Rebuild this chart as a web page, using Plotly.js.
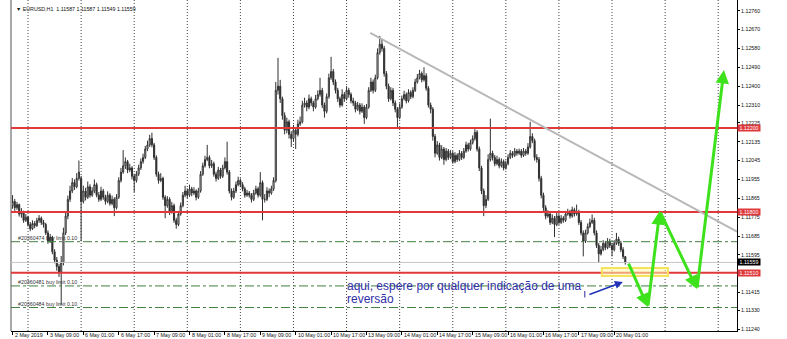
<!DOCTYPE html>
<html>
<head>
<meta charset="utf-8">
<script src="https://cdn.plot.ly/plotly-3.0.1.min.js"></script>
<style>
  html, body { margin: 0; padding: 0; background: #fff; }
  #chart { width: 787px; height: 339px; }
</style>
</head>
<body>
<div id="chart"></div>
<script>
// EURUSD H1 bars, 2 May 2019 17:00 .. 20 May 2019 06:00 (one bar per hour, weekends skipped)
const open = [
  1.11830,1.11850,1.11820,1.11835,1.11790,1.11800,1.11760,1.11775,1.11740,1.11720,
  1.11745,1.11735,1.11760,1.11770,1.11750,1.11740,1.11700,1.11660,1.11680,1.11610,
  1.11570,1.11540,1.11510,1.11560,1.11700,1.11780,1.11860,1.11900,1.11940,1.11920,
  1.11960,1.11960,1.11850,1.11900,1.11870,1.11920,1.11880,1.11900,1.11930,1.11880,
  1.11860,1.11900,1.11870,1.11850,1.11880,1.11840,1.11860,1.11820,1.11870,1.11950,
  1.11990,1.12020,1.12040,1.12000,1.12010,1.11970,1.11950,1.11980,1.12010,1.12040,
  1.12060,1.12100,1.12120,1.12150,1.12120,1.12060,1.11980,1.11950,1.11960,1.11870,
  1.11830,1.11860,1.11800,1.11830,1.11760,1.11740,1.11790,1.11830,1.11880,1.11900,
  1.11880,1.11910,1.11890,1.11900,1.11870,1.11900,1.11980,1.12020,1.12050,1.12060,
  1.12020,1.12030,1.11980,1.11960,1.12000,1.11970,1.12010,1.12040,1.11990,1.11900,
  1.11870,1.11900,1.11930,1.11950,1.11930,1.11910,1.11880,1.11890,1.11880,1.11860,
  1.11890,1.11910,1.11880,1.11940,1.11860,1.11860,1.11900,1.11890,1.11910,1.11950,
  1.12380,1.12400,1.12340,1.12260,1.12190,1.12230,1.12170,1.12150,1.12190,1.12170,
  1.12220,1.12230,1.12310,1.12320,1.12300,1.12340,1.12320,1.12300,1.12340,1.12360,
  1.12380,1.12310,1.12280,1.12350,1.12440,1.12470,1.12420,1.12380,1.12340,1.12310,
  1.12360,1.12340,1.12380,1.12360,1.12330,1.12320,1.12290,1.12310,1.12280,1.12300,
  1.12250,1.12300,1.12380,1.12420,1.12380,1.12440,1.12560,1.12600,1.12580,1.12460,
  1.12400,1.12340,1.12380,1.12320,1.12290,1.12250,1.12300,1.12340,1.12360,1.12330,
  1.12370,1.12350,1.12380,1.12420,1.12440,1.12460,1.12430,1.12450,1.12390,1.12310,
  1.12290,1.12160,1.12080,1.12120,1.12060,1.12100,1.12050,1.12090,1.12060,1.12080,
  1.12040,1.12070,1.12050,1.12080,1.12060,1.12090,1.12120,1.12100,1.12130,1.12150,
  1.12180,1.12100,1.12010,1.11900,1.11830,1.11860,1.12050,1.12080,1.12060,1.12030,
  1.12050,1.12020,1.12040,1.12010,1.12030,1.12060,1.12080,1.12070,1.12090,1.12080,
  1.12090,1.12070,1.12090,1.12080,1.12110,1.12160,1.12140,1.12060,1.12050,1.11960,
  1.11880,1.11820,1.11780,1.11790,1.11750,1.11770,1.11740,1.11780,1.11750,1.11770,
  1.11760,1.11790,1.11800,1.11780,1.11810,1.11790,1.11800,1.11750,1.11700,1.11660,
  1.11700,1.11730,1.11750,1.11760,1.11700,1.11640,1.11600,1.11620,1.11650,1.11630,
  1.11660,1.11640,1.11620,1.11650,1.11670,1.11650,1.11620,1.11587
];
const high = [
  1.11880,1.11862,1.11848,1.11840,1.11818,1.11806,1.11790,1.11782,1.11752,1.11760,
  1.11756,1.11772,1.11785,1.11778,1.11762,1.11748,1.11712,1.11695,1.11686,1.11622,
  1.11585,1.11552,1.11590,1.11725,1.11800,1.11878,1.11925,1.11962,1.11955,1.11985,
  1.12045,1.11972,1.11925,1.11915,1.11945,1.11932,1.11918,1.11955,1.11940,1.11895,
  1.11920,1.11910,1.11882,1.11898,1.11890,1.11878,1.11870,1.11885,1.11965,1.12010,
  1.12095,1.12060,1.12048,1.12030,1.12018,1.11982,1.11995,1.12025,1.12055,1.12078,
  1.12115,1.12140,1.12168,1.12178,1.12130,1.12070,1.11992,1.11985,1.11968,1.11880,
  1.11875,1.11870,1.11848,1.11840,1.11772,1.11805,1.11845,1.11895,1.11925,1.11912,
  1.11930,1.11920,1.11918,1.11908,1.11915,1.11995,1.12035,1.12068,1.12120,1.12070,
  1.12048,1.12040,1.11992,1.12015,1.12010,1.12025,1.12060,1.12135,1.12000,1.11912,
  1.11915,1.11945,1.11968,1.11960,1.11942,1.11920,1.11905,1.11900,1.11890,1.11905,
  1.11925,1.11920,1.11990,1.11950,1.11885,1.11918,1.11912,1.11925,1.11965,1.12420,
  1.12535,1.12430,1.12350,1.12275,1.12250,1.12240,1.12185,1.12215,1.12205,1.12240,
  1.12255,1.12330,1.12345,1.12332,1.12360,1.12350,1.12330,1.12358,1.12380,1.12440,
  1.12392,1.12322,1.12365,1.12460,1.12540,1.12482,1.12432,1.12392,1.12350,1.12385,
  1.12372,1.12400,1.12392,1.12370,1.12345,1.12330,1.12325,1.12320,1.12318,1.12310,
  1.12315,1.12395,1.12440,1.12432,1.12455,1.12580,1.12640,1.12625,1.12592,1.12472,
  1.12412,1.12395,1.12392,1.12332,1.12300,1.12318,1.12355,1.12378,1.12370,1.12385,
  1.12380,1.12395,1.12435,1.12458,1.12478,1.12470,1.12490,1.12462,1.12400,1.12322,
  1.12300,1.12172,1.12138,1.12130,1.12118,1.12110,1.12105,1.12100,1.12095,1.12090,
  1.12085,1.12080,1.12095,1.12090,1.12105,1.12135,1.12130,1.12145,1.12165,1.12195,
  1.12190,1.12112,1.12020,1.11912,1.11880,1.12075,1.12245,1.12092,1.12072,1.12068,
  1.12060,1.12055,1.12050,1.12045,1.12075,1.12095,1.12090,1.12105,1.12100,1.12102,
  1.12100,1.12105,1.12100,1.12128,1.12230,1.12175,1.12150,1.12075,1.12062,1.11972,
  1.11892,1.11832,1.11808,1.11800,1.11788,1.11780,1.11795,1.11790,1.11785,1.11780,
  1.11805,1.11815,1.11810,1.11825,1.11820,1.11835,1.11810,1.11762,1.11712,1.11715,
  1.11745,1.11768,1.11788,1.11772,1.11712,1.11652,1.11638,1.11665,1.11662,1.11675,
  1.11672,1.11652,1.11665,1.11700,1.11682,1.11662,1.11632,1.11587
];
const low = [
  1.11815,1.11805,1.11810,1.11778,1.11772,1.11748,1.11752,1.11730,1.11708,1.11714,
  1.11722,1.11728,1.11748,1.11738,1.11725,1.11690,1.11648,1.11652,1.11598,1.11555,
  1.11520,1.11490,1.11356,1.11545,1.11690,1.11765,1.11848,1.11890,1.11905,1.11912,
  1.11950,1.11660,1.11840,1.11855,1.11862,1.11868,1.11872,1.11890,1.11870,1.11848,
  1.11852,1.11858,1.11835,1.11842,1.11830,1.11832,1.11780,1.11812,1.11862,1.11940,
  1.11982,1.12005,1.11985,1.11990,1.11955,1.11895,1.11940,1.11972,1.12000,1.12030,
  1.12052,1.12090,1.12110,1.12108,1.12048,1.11968,1.11935,1.11942,1.11858,1.11770,
  1.11820,1.11785,1.11792,1.11748,1.11720,1.11732,1.11782,1.11822,1.11870,1.11865,
  1.11872,1.11875,1.11880,1.11855,1.11862,1.11892,1.11972,1.12012,1.12042,1.12008,
  1.12010,1.11968,1.11945,1.11952,1.11958,1.11962,1.12002,1.11978,1.11888,1.11855,
  1.11862,1.11890,1.11922,1.11918,1.11898,1.11868,1.11872,1.11868,1.11845,1.11852,
  1.11882,1.11868,1.11872,1.11760,1.11845,1.11852,1.11870,1.11882,1.11900,1.11940,
  1.12360,1.12320,1.12240,1.12170,1.12175,1.12150,1.12110,1.12138,1.12100,1.12160,
  1.12210,1.12222,1.12298,1.12280,1.12290,1.12305,1.12280,1.12292,1.12332,1.12350,
  1.12295,1.12250,1.12270,1.12340,1.12430,1.12405,1.12365,1.12325,1.12298,1.12302,
  1.12325,1.12332,1.12345,1.12318,1.12305,1.12275,1.12282,1.12265,1.12272,1.12220,
  1.12242,1.12292,1.12372,1.12365,1.12372,1.12432,1.12550,1.12565,1.12445,1.12385,
  1.12325,1.12332,1.12305,1.12275,1.12200,1.12242,1.12292,1.12332,1.12318,1.12322,
  1.12338,1.12342,1.12372,1.12412,1.12432,1.12418,1.12422,1.12378,1.12298,1.12270,
  1.12140,1.12060,1.12072,1.12045,1.12052,1.12025,1.12042,1.12048,1.12052,1.12030,
  1.12032,1.12038,1.12042,1.12048,1.12052,1.12082,1.12088,1.12092,1.12122,1.12140,
  1.12088,1.11995,1.11885,1.11780,1.11818,1.11852,1.12040,1.12045,1.12018,1.12022,
  1.12008,1.12012,1.11998,1.12002,1.12022,1.12052,1.12058,1.12062,1.12068,1.12072,
  1.12058,1.12062,1.12068,1.12072,1.12102,1.12128,1.12045,1.12035,1.11945,1.11865,
  1.11805,1.11765,1.11772,1.11738,1.11742,1.11680,1.11732,1.11738,1.11742,1.11748,
  1.11752,1.11782,1.11768,1.11772,1.11778,1.11782,1.11738,1.11688,1.11588,1.11652,
  1.11692,1.11722,1.11742,1.11688,1.11628,1.11558,1.11592,1.11612,1.11618,1.11622,
  1.11628,1.11588,1.11612,1.11642,1.11638,1.11608,1.11575,1.11549
];
const close = [
  1.11850,1.11820,1.11835,1.11790,1.11800,1.11760,1.11775,1.11740,1.11720,1.11745,
  1.11735,1.11760,1.11770,1.11750,1.11740,1.11700,1.11660,1.11680,1.11610,1.11570,
  1.11540,1.11510,1.11560,1.11700,1.11780,1.11860,1.11900,1.11940,1.11920,1.11960,
  1.11990,1.11850,1.11900,1.11870,1.11920,1.11880,1.11900,1.11930,1.11880,1.11860,
  1.11900,1.11870,1.11850,1.11880,1.11840,1.11860,1.11820,1.11870,1.11950,1.11990,
  1.12020,1.12040,1.12000,1.12010,1.11970,1.11950,1.11980,1.12010,1.12040,1.12060,
  1.12100,1.12120,1.12150,1.12120,1.12060,1.11980,1.11950,1.11960,1.11870,1.11830,
  1.11860,1.11800,1.11830,1.11760,1.11740,1.11790,1.11830,1.11880,1.11900,1.11880,
  1.11910,1.11890,1.11900,1.11870,1.11900,1.11980,1.12020,1.12050,1.12060,1.12020,
  1.12030,1.11980,1.11960,1.12000,1.11970,1.12010,1.12040,1.11990,1.11900,1.11870,
  1.11900,1.11930,1.11950,1.11930,1.11910,1.11880,1.11890,1.11880,1.11860,1.11890,
  1.11910,1.11880,1.11940,1.11860,1.11860,1.11900,1.11890,1.11910,1.11950,1.12380,
  1.12400,1.12340,1.12260,1.12190,1.12230,1.12170,1.12150,1.12190,1.12170,1.12220,
  1.12230,1.12310,1.12320,1.12300,1.12340,1.12320,1.12300,1.12340,1.12360,1.12380,
  1.12310,1.12280,1.12350,1.12440,1.12470,1.12420,1.12380,1.12340,1.12310,1.12360,
  1.12340,1.12380,1.12360,1.12330,1.12320,1.12290,1.12310,1.12280,1.12300,1.12250,
  1.12300,1.12380,1.12420,1.12380,1.12440,1.12560,1.12600,1.12580,1.12460,1.12400,
  1.12340,1.12380,1.12320,1.12290,1.12250,1.12300,1.12340,1.12360,1.12330,1.12370,
  1.12350,1.12380,1.12420,1.12440,1.12460,1.12430,1.12450,1.12390,1.12310,1.12290,
  1.12160,1.12080,1.12120,1.12060,1.12100,1.12050,1.12090,1.12060,1.12080,1.12040,
  1.12070,1.12050,1.12080,1.12060,1.12090,1.12120,1.12100,1.12130,1.12150,1.12180,
  1.12100,1.12010,1.11900,1.11830,1.11860,1.12050,1.12080,1.12060,1.12030,1.12050,
  1.12020,1.12040,1.12010,1.12030,1.12060,1.12080,1.12070,1.12090,1.12080,1.12090,
  1.12070,1.12090,1.12080,1.12110,1.12160,1.12140,1.12060,1.12050,1.11960,1.11880,
  1.11820,1.11780,1.11790,1.11750,1.11770,1.11740,1.11780,1.11750,1.11770,1.11760,
  1.11790,1.11800,1.11780,1.11810,1.11790,1.11800,1.11750,1.11700,1.11660,1.11700,
  1.11730,1.11750,1.11760,1.11700,1.11640,1.11600,1.11620,1.11650,1.11630,1.11660,
  1.11640,1.11620,1.11650,1.11670,1.11650,1.11620,1.11587,1.11559
];

// time-axis labels, one every 16 bars starting at bar 0
const timeLabels = [
  "2 May 2019", "3 May 09:00", "6 May 01:00", "6 May 17:00", "7 May 09:00",
  "8 May 01:00", "8 May 17:00", "9 May 09:00", "10 May 01:00", "10 May 17:00",
  "13 May 09:00", "14 May 01:00", "14 May 17:00", "15 May 09:00", "16 May 01:00",
  "16 May 17:00", "17 May 09:00", "20 May 01:00"
];
const priceTicks = [
  1.12760, 1.12670, 1.12580, 1.12490, 1.12400, 1.12310, 1.12225, 1.12135, 1.12045,
  1.11955, 1.11865, 1.11775, 1.11685, 1.11595, 1.11415, 1.11330, 1.11240
];

// horizontal levels
const resistanceLevels = [1.12200, 1.11800, 1.11510];
const bidPrice = 1.11559;
const pendingOrders = [
  { price: 1.11658, label: "#20360474 buy limit 0.10" },
  { price: 1.11447, label: "#20360481 buy limit 0.10" },
  { price: 1.11344, label: "#20360484 buy limit 0.10" }
];
const headerText = "▼ EURUSD,H1  1.11587 1.11587 1.11549 1.11559";

// drawing objects (bar index, price)
const trendLine = { x0: 161.7, y0: 1.12654, x1: 327.5, y1: 1.11706 };
const scenarioPath = [
  [278.2, 1.11561], [287.2, 1.11346], [292.6, 1.11804], [309.4, 1.11432], [321.6, 1.12477]
];
const watchZone = { x0: 266.4, x1: 296.3, y0: 1.11494, y1: 1.11532 };
const noteArrow = { tail: [260.1, 1.11404], head: [275.9, 1.11466] };
const noteLines = [
  { text: "aqui, espere por qualquer indicação de uma", x: 150.3, y: 1.11447 },
  { text: "reversão", x: 150.3, y: 1.11385 }
];

const barIndex = close.map((_, i) => i);
const tickBars = timeLabels.map((_, k) => k * 16);

const PLOT_L = 11, PLOT_R = 737, PLOT_T = 0, PLOT_B = 331;
const px = x => (x - PLOT_L) / (PLOT_R - PLOT_L);
const py = y => (PLOT_B - y) / (PLOT_B - PLOT_T);

const FAMILY = "Liberation Sans, Arial, sans-serif";
const smallFont = { family: FAMILY, size: 5.3, color: "#111" };

const shapes = [];
// day separators
for (let d = 7; d < 328; d += 24) {
  shapes.push({ type: "line", xref: "x", yref: "paper", x0: d, x1: d, y0: 0, y1: 1,
    line: { color: "#444", width: 1, dash: "1px,2px" }, layer: "below" });
}
// left frame edge
shapes.push({ type: "line", xref: "paper", yref: "paper", x0: 0, x1: 0, y0: 0, y1: 1,
  line: { color: "#a8a8a8", width: 2 } });
// bid line
shapes.push({ type: "line", xref: "paper", yref: "y", x0: 0, x1: 1, y0: bidPrice, y1: bidPrice,
  line: { color: "#c4c4c4", width: 1 } });
// pending orders
pendingOrders.forEach(o => shapes.push({ type: "line", xref: "paper", yref: "y", x0: 0, x1: 1,
  y0: o.price, y1: o.price, line: { color: "#3f7f3f", width: 1, dash: "dashdot" } }));
// support / resistance
resistanceLevels.forEach(v => shapes.push({ type: "line", xref: "paper", yref: "y", x0: 0, x1: 1,
  y0: v, y1: v, line: { color: "#e0393c", width: 2 } }));
// trend line
shapes.push({ type: "line", xref: "x", yref: "y", x0: trendLine.x0, y0: trendLine.y0,
  x1: trendLine.x1, y1: trendLine.y1, line: { color: "#b8b8b8", width: 2 } });
// zone to watch
shapes.push({ type: "rect", xref: "x", yref: "y", x0: watchZone.x0, x1: watchZone.x1,
  y0: watchZone.y0, y1: watchZone.y1, fillcolor: "rgba(255,248,170,0.55)",
  line: { color: "#f4e35c", width: 2 } });
// small marker next to the note
shapes.push({ type: "line", xref: "x", yref: "y", x0: 258.7, x1: 258.7, y0: 1.11392, y1: 1.11423,
  line: { color: "#2a2aa0", width: 1 } });

const annotations = [];
annotations.push({ xref: "paper", yref: "paper", x: px(14), y: py(9), xanchor: "left", yanchor: "middle",
  text: headerText, showarrow: false, font: smallFont });
// time labels, left-aligned just after their tick mark
timeLabels.forEach((t, k) => annotations.push({ xref: "x", yref: "paper", x: tickBars[k], y: py(335),
  xanchor: "left", yanchor: "middle", xshift: 0, text: t, showarrow: false, font: smallFont }));
pendingOrders.forEach(o => annotations.push({ xref: "paper", yref: "y", x: px(16), y: o.price,
  xanchor: "left", yanchor: "bottom", yshift: -1, text: o.label, showarrow: false,
  font: { family: FAMILY, size: 5.3, color: "#333" } }));
resistanceLevels.forEach(v => annotations.push({ xref: "paper", yref: "y", x: 1, y: v,
  xanchor: "left", yanchor: "middle", text: v.toFixed(5), showarrow: false,
  bgcolor: "#e0393c", width: 22, height: 6, borderpad: 0,
  font: { family: FAMILY, size: 5.3, color: "#fff" } }));
annotations.push({ xref: "paper", yref: "y", x: 1, y: bidPrice, xanchor: "left", yanchor: "middle",
  text: bidPrice.toFixed(5), showarrow: false, bgcolor: "#000", width: 22, height: 6, borderpad: 0,
  font: { family: FAMILY, size: 5.3, color: "#fff" } });
noteLines.forEach(n => annotations.push({ xref: "x", yref: "y", x: n.x, y: n.y,
  xanchor: "left", yanchor: "middle", text: n.text, showarrow: false,
  font: { family: FAMILY, size: 12, color: "#3030a8" } }));
annotations.push({ xref: "x", yref: "y", axref: "x", ayref: "y",
  x: noteArrow.head[0], y: noteArrow.head[1], ax: noteArrow.tail[0], ay: noteArrow.tail[1],
  text: "", showarrow: true, arrowhead: 2, arrowsize: 1, arrowwidth: 1.6, arrowcolor: "#2233bb" });
for (let k = 1; k < scenarioPath.length; k++) {
  annotations.push({ xref: "x", yref: "y", axref: "x", ayref: "y",
    x: scenarioPath[k][0], y: scenarioPath[k][1], ax: scenarioPath[k - 1][0], ay: scenarioPath[k - 1][1],
    text: "", showarrow: true, arrowhead: 2, arrowsize: 0.9, arrowwidth: 3, arrowcolor: "#3ee21c" });
}

const candles = {
  type: "candlestick",
  x: barIndex, open: open, high: high, low: low, close: close,
  increasing: { line: { color: "#303030", width: 1 }, fillcolor: "#ffffff" },
  decreasing: { line: { color: "#303030", width: 1 }, fillcolor: "#222222" },
  whiskerwidth: 0,
  hoverinfo: "skip"
};

const layout = {
  width: 787, height: 339,
  margin: { l: PLOT_L, r: 787 - PLOT_R, t: PLOT_T, b: 339 - PLOT_B },
  paper_bgcolor: "#ffffff", plot_bgcolor: "#ffffff",
  showlegend: false,
  font: smallFont,
  xaxis: {
    type: "linear", range: [-0.7, 327.5],
    tickmode: "array", tickvals: tickBars, ticktext: timeLabels,
    showticklabels: false,
    ticks: "outside", ticklen: 3, tickcolor: "#000", tickwidth: 1,
    showgrid: false, zeroline: false,
    showline: true, linecolor: "#000", linewidth: 1,
    rangeslider: { visible: false }, fixedrange: true
  },
  yaxis: {
    side: "right", range: [1.11232, 1.12811],
    tickmode: "array", tickvals: priceTicks, ticktext: priceTicks.map(v => v.toFixed(5)),
    ticks: "outside", ticklen: 2, tickcolor: "#000", tickwidth: 1,
    tickfont: smallFont,
    showgrid: false, zeroline: false,
    showline: true, linecolor: "#000", linewidth: 1, fixedrange: true
  },
  shapes: shapes,
  annotations: annotations
};

Plotly.newPlot("chart", [candles], layout, { staticPlot: true, displayModeBar: false });
</script>
</body>
</html>
